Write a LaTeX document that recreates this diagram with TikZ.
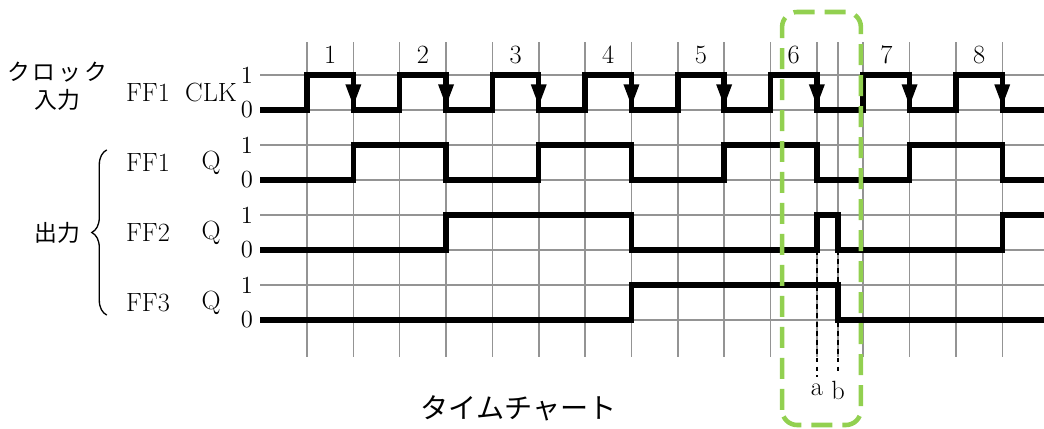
\documentclass[tikz,border=0pt]{standalone}
\usepackage{fontspec}
\newfontfamily\jpfont{Noto Sans CJK JP}
\usetikzlibrary{arrows.meta,decorations.pathreplacing}
\definecolor{zonegreen}{RGB}{146,208,80}

\begin{document}
\begin{tikzpicture}[
  x=0.927cm, y=0.7cm,
  gridline/.style={draw=black!42,line width=0.85pt},
  wave/.style={line width=3.1pt},
  fall/.style={line width=3.1pt,-{Triangle[length=0.45cm,width=0.28cm]}},
  lbl/.style={font=\fontsize{15}{17}\selectfont,inner sep=1pt},
  lvl/.style={font=\fontsize{14}{16}\selectfont,anchor=east,inner sep=1pt},
  jp/.style={font=\jpfont\fontsize{13}{15}\selectfont,inner sep=0pt},
  marker/.style={line width=1.1pt,dash pattern=on 2.8pt off 2.3pt},
  zone/.style={draw=zonegreen,line width=2.6pt,rounded corners=0.3cm,dash pattern=on 0.42cm off 0.2cm}
]
  \useasboundingbox (-6.624,-3.114) rectangle (15.901,9.143);
  \foreach \k in {0,...,15}
    \draw[gridline] (\k,-1.057) -- (\k,7.943);
  \draw[gridline] (11.46,-1.057) -- (11.46,7.943);
  \foreach \y in {0,...,7}
    \draw[gridline] (-1.014,\y) -- (15.901,\y);

  \foreach \n in {1,...,8}
    \node[lbl] (P\n) at ({2*\n-1.5},7.57) {\n};

  \coordinate (aTop) at (11,2);
  \coordinate (bTop) at (11.46,2);
  \node[lbl] (la) at (11,-2.0) {a};
  \node[lbl] (lb) at (11.46,-2.0) {b};
  \draw[marker] (aTop) -- ([yshift=3pt]la.north);
  \draw[marker] (bTop) -- ([yshift=3pt]lb.north);

  \draw[wave] (-1.014,6) foreach \k in {0,2,...,14} { -- (\k,6) -- (\k,7) -- (\k+1,7) -- (\k+1,6) } -- (15.901,6);
  \foreach \k in {1,3,...,15}
    \draw[fall] (\k,7) -- (\k,6.086);
  \draw[wave] (-1.014,4) foreach \k in {1,5,9,13} { -- (\k,4) -- (\k,5) -- (\k+2,5) -- (\k+2,4) } -- (15.901,4);
  \draw[wave] (-1.014,2) -- (3,2) -- (3,3) -- (7,3) -- (7,2) -- (11,2) -- (11,3) -- (11.46,3) -- (11.46,2) -- (15,2) -- (15,3) -- (15.901,3);
  \draw[wave] (-1.014,0) -- (7,0) -- (7,1) -- (11.46,1) -- (11.46,0) -- (15.901,0);

  \foreach \y in {0,2,4,6} {
    \node[lvl] at (-1.12,\y) {0};
    \node[lvl] at (-1.12,\y+1) {1};
  }

  \node[jp] (clkA) at (-5.39,7.09) {ク\hspace{0.12em}ロ\hspace{0.12em}ッ\hspace{0.12em}ク};
  \node[jp] (clkB) at (-5.39,6.29) {入力};
  \node[lbl] (ff1c) at (-3.43,6.5) {FF1};
  \node[lbl] (clk) at (-2.07,6.5) {CLK};
  \node[lbl] (ff1) at (-3.43,4.5) {FF1};
  \node[lbl] (q1) at (-2.07,4.5) {Q};
  \node[lbl] (ff2) at (-3.43,2.5) {FF2};
  \node[lbl] (q2) at (-2.07,2.5) {Q};
  \node[lbl] (ff3) at (-3.43,0.5) {FF3};
  \node[lbl] (q3) at (-2.07,0.5) {Q};
  \draw[line width=0.75pt,decorate,decoration={brace,amplitude=0.3cm}] (-4.32,0.14) -- (-4.32,4.86);
  \node[jp] (out) at (-5.39,2.5) {出力};

  \node[jp,font=\jpfont\fontsize{16}{18}\selectfont] (title) at (4.57,-2.51) {タイムチャート};

  \draw[zone] (10.25,-3.0) rectangle (11.95,8.8);
\end{tikzpicture}
\end{document}
